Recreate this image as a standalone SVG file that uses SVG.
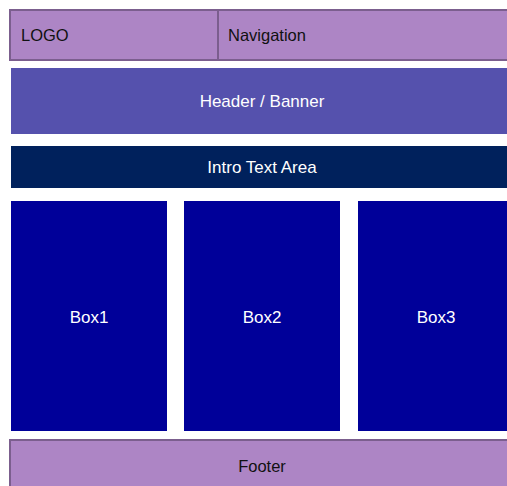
<svg xmlns="http://www.w3.org/2000/svg" width="507" height="486" viewBox="0 0 507 486">
<style>
.p{fill:#ad85c5;stroke:#7b5e8e;stroke-width:2}
.t{font-family:"Liberation Sans",Arial,sans-serif;font-size:16.5px}
.d{fill:#111}
.w{fill:#fff;text-anchor:middle;font-size:17px}
</style>
<rect width="507" height="486" fill="#fff"/>
<g id="logo"><rect class="p" x="10" y="10" width="208" height="50"/><text class="t d" x="21" y="41">LOGO</text></g>
<g id="navigation"><rect class="p" x="218" y="10" width="296" height="50"/><text class="t d" x="228" y="41">Navigation</text></g>
<g id="header"><rect x="11" y="68" width="502" height="66" fill="#5551ad"/><text class="t w" x="262" y="107">Header / Banner</text></g>
<g id="intro"><rect x="11" y="146" width="502" height="42" fill="#00215c"/><text class="t w" x="262" y="173">Intro Text Area</text></g>
<g id="box1"><rect x="11" y="201" width="156" height="230" fill="#000099"/><text class="t w" x="89" y="323">Box1</text></g>
<g id="box2"><rect x="184" y="201" width="156" height="230" fill="#000099"/><text class="t w" x="262" y="323">Box2</text></g>
<g id="box3"><rect x="358" y="201" width="156" height="230" fill="#000099"/><text class="t w" x="436" y="323">Box3</text></g>
<g id="footer"><rect class="p" x="10" y="440" width="504" height="50"/><text class="t d" x="262" y="472" text-anchor="middle">Footer</text></g>
<g id="connectors"/>
</svg>
